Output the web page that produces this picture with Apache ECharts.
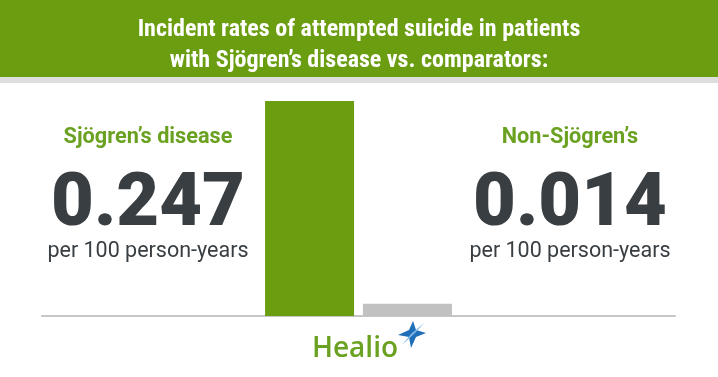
<!DOCTYPE html>
<html>
<head>
<meta charset="utf-8">
<script src="https://cdn.jsdelivr.net/npm/echarts@6/dist/echarts.min.js"></script>
<style>
  html, body { margin: 0; padding: 0; background: #fff; }
  #chart { width: 718px; height: 377px; }
</style>
</head>
<body>
<div id="chart"></div>
<script>
const groups = ['Sjögren’s disease', 'Non-Sjögren’s'];
const rates = [0.247, 0.014];
const unitLabel = 'per 100 person-years';
const titleLines = ['Incident rates of attempted suicide in patients', 'with Sjögren’s disease vs. comparators:'];

const green = '#6a9e10';
const dark = '#393e42';

const chart = echarts.init(document.getElementById('chart'));

// text block (group name / big number / unit) at the side of each bar
function sideBlock(cx, i) {
    return [
        {
            type: 'text',
            style: { text: groups[i], x: cx, y: 138, align: 'center', verticalAlign: 'middle',
                font: 'bold 21.7px Roboto, sans-serif', fill: '#6aa121' }
        },
        {
            type: 'text',
            style: { text: rates[i].toFixed(3), x: cx, y: 206, align: 'center', verticalAlign: 'middle',
                font: '900 74px Roboto, sans-serif', fill: dark }
        },
        {
            type: 'text',
            style: { text: unitLabel, x: cx, y: 252, align: 'center', verticalAlign: 'middle',
                font: '21.5px Roboto, sans-serif', fill: dark }
        }
    ];
}

const option = {
    animation: false,
    title: {
        text: titleLines.join('\n'),
        left: 'center',
        top: 9,
        textStyle: {
            color: '#fff',
            fontFamily: '"Roboto Condensed", "Liberation Sans Narrow", "DejaVu Sans Condensed", sans-serif',
            fontWeight: 'bold',
            fontSize: 24,
            lineHeight: 31
        }
    },
    grid: {
        left: 42,
        right: 43,
        top: 101,
        bottom: 61
    },
    xAxis: {
        type: 'category',
        data: [''],
        axisTick: { show: false },
        axisLabel: { show: false },
        axisLine: { lineStyle: { color: '#c6c6c6', width: 2 } }
    },
    yAxis: {
        type: 'value',
        min: 0,
        max: 0.247,
        show: false
    },
    series: [
        {
            name: groups[0],
            type: 'bar',
            data: [rates[0]],
            barWidth: 89,
            barGap: '10%',
            itemStyle: { color: green }
        },
        {
            name: groups[1],
            type: 'bar',
            data: [rates[1]],
            barWidth: 89,
            itemStyle: { color: '#c1c1c1' }
        }
    ],
    graphic: [
        { type: 'rect', z: -1, shape: { x: 0, y: 0, width: 718, height: 77 }, style: { fill: green } },
        { type: 'rect', z: -1, shape: { x: 0, y: 77, width: 718, height: 6 }, style: { fill: '#dedede' } },
        ...sideBlock(148, 0),
        ...sideBlock(570, 1),
        {
            type: 'text',
            style: { text: 'Healio', x: 355, y: 349, align: 'center', verticalAlign: 'middle',
                font: '600 28px "Open Sans", sans-serif', fill: '#6aa121' }
        },
        // star of the logo
        {
            type: 'polygon',
            shape: { points: [[413, 321], [416, 330], [426, 333], [416, 337], [411, 348], [409, 337], [398, 335], [409, 330]] },
            style: { fill: '#1f6fb8' }
        },
        {
            type: 'polygon',
            shape: { points: [[424, 323], [415, 333], [402, 345], [411, 334]] },
            style: { fill: '#7fb8e6' }
        }
    ]
};

chart.setOption(option);
window.addEventListener('resize', () => chart.resize());
</script>
</body>
</html>
